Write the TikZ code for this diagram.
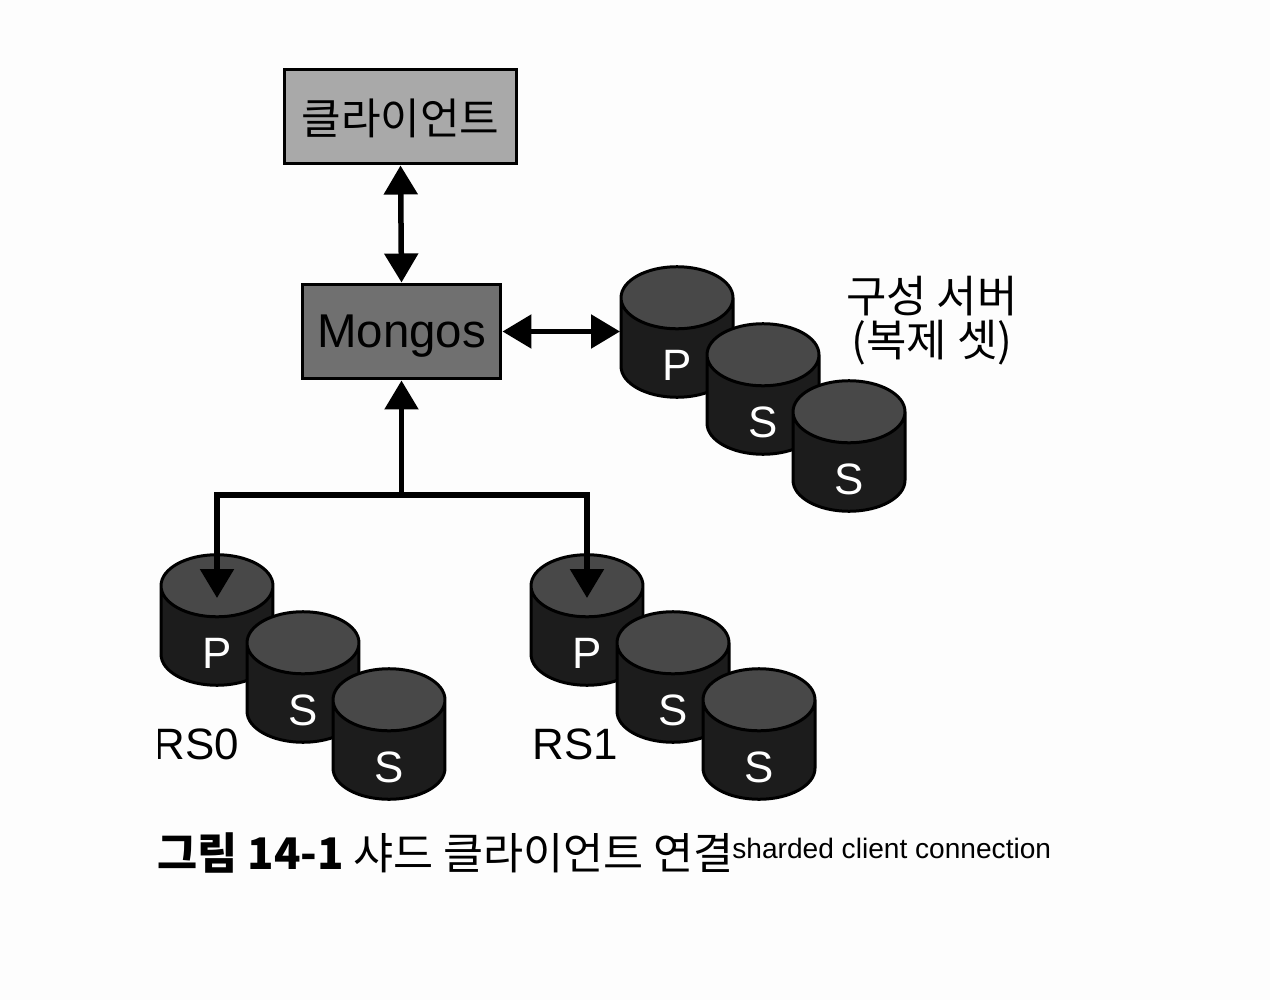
\documentclass[tikz,border=0pt]{standalone}
\usepackage{fontspec}
\setmainfont{Liberation Sans}
\newfontfamily\cjk{Noto Sans CJK KR}
\usepackage{tikz}
\usetikzlibrary{shapes,arrows.meta}
\definecolor{paper}{HTML}{FDFDFD}
\definecolor{clientgray}{HTML}{A9A9A9}
\definecolor{mongosgray}{HTML}{707070}
\definecolor{dbtop}{HTML}{484848}
\definecolor{dbbody}{HTML}{1C1C1C}

\begin{document}
\begin{tikzpicture}[x=0.02cm,y=-0.02cm]
\tikzstyle{box}=[draw=black,line width=0.06cm,inner sep=0,minimum height=1.9cm,text depth=0pt]
\tikzstyle{db}=[cylinder,shape border rotate=90,aspect=0.97,draw=black,line width=0.06cm,
  cylinder uses custom fill,cylinder body fill=dbbody,cylinder end fill=dbtop,
  minimum width=2.24cm,minimum height=2.56cm,inner sep=0.64cm,anchor=shape center]
\tikzstyle{dbtext}=[text=white,inner sep=0,font=\fontsize{25}{25}\selectfont]
\tikzstyle{rslabel}=[inner sep=0,anchor=west,font=\fontsize{25}{25}\selectfont]
\tikzstyle{link}=[line width=0.11cm,-{Triangle[length=0.58cm,width=0.66cm]}]
\tikzstyle{biglink}=[line width=0.11cm,{Triangle[length=0.58cm,width=0.66cm]}-{Triangle[length=0.58cm,width=0.66cm]}]
\fill[paper] (0,0) rectangle (1270,1000);
\useasboundingbox (0,0) rectangle (1270,1000);

\node[box,fill=clientgray,minimum width=4.66cm] (client) at (400.5,116.5) {\cjk\fontsize{24.5}{24.5}\selectfont 클라이언트};
\node[box,fill=mongosgray,minimum width=3.98cm] (mongos) at (401.5,331.5) {\fontsize{27}{27}\selectfont Mongos};

\foreach \s/\x/\y in {cfg/677/332,rsa/217/620,rsb/587/620}{
\node[db] (\s p) at (\x,\y) {};
\node[dbtext] (\s pt) at (\x,\y+33) {P};
\node[db] (\s q) at (\x+86,\y+57) {};
\node[dbtext] (\s qt) at (\x+86,\y+90) {S};
\node[db] (\s r) at (\x+172,\y+114) {};
\node[dbtext] (\s rt) at (\x+172,\y+147) {S};
};

\node[align=center,inner sep=0,font=\cjk\fontsize{25}{25}\selectfont] (cfgname) at (932,321) {구성 서버\\(복제 셋)};
\begin{scope}
\clip (158,700) rectangle (300,790);
\node[rslabel] (rsaname) at (153,744) {RS0};
\end{scope}
\node[rslabel] (rsbname) at (532,744) {RS1};

\coordinate (bus) at (401.5,495);
\coordinate (rsain) at (217,598);
\coordinate (rsbin) at (587,598);
\coordinate (cfgin) at (620,331.5);

\draw[biglink] (client.south) -- (mongos.north);
\draw[biglink] (mongos.east) -- (cfgin);
\draw[link] (bus) -- (mongos.south);
\draw[link] (bus) -| (rsain);
\draw[link] (bus) -| (rsbin);

\node[inner sep=0,anchor=base west] (figtitle) at (157,869) {\cjk\fontsize{24.8}{24.8}\selectfont\textbf{그림 14-1} 샤드 클라이언트 연결};
\node[inner sep=0,anchor=base west] (figeng) at (732,858) {\fontsize{16}{16}\selectfont sharded client connection};
\end{tikzpicture}
\end{document}
